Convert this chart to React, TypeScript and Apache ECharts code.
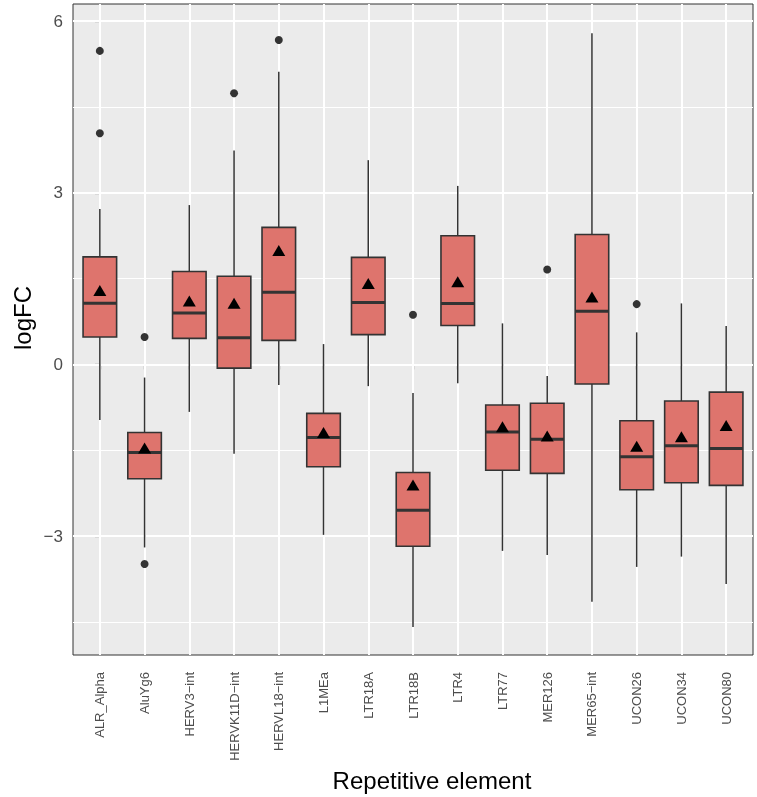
import React, { useEffect, useRef } from "react";
import * as echarts from "echarts";

const categories = [
  "ALR_Alpha", "AluYg6", "HERV3\u2212int", "HERVK11D\u2212int", "HERVL18\u2212int", "L1MEa", "LTR18A",
  "LTR18B", "LTR4", "LTR77", "MER126", "MER65\u2212int", "UCON26", "UCON34", "UCON80",
];
const whiskerLow = [-0.97, -3.2, -0.83, -1.56, -0.36, -2.98, -0.38, -4.59, -0.33, -3.26, -3.33, -4.15, -3.54, -3.36, -3.84];
const q1 = [0.48, -2.0, 0.455, -0.065, 0.42, -1.79, 0.52, -3.18, 0.68, -1.85, -1.905, -0.344, -2.19, -2.07, -2.115];
const median = [1.07, -1.54, 0.9, 0.465, 1.26, -1.28, 1.08, -2.55, 1.066, -1.18, -1.31, 0.927, -1.615, -1.42, -1.47];
const q3 = [1.88, -1.19, 1.625, 1.54, 2.395, -0.857, 1.87, -1.89, 2.25, -0.71, -0.68, 2.27, -0.985, -0.64, -0.484];
const whiskerHigh = [2.715, -0.23, 2.785, 3.74, 5.115, 0.355, 3.57, -0.5, 3.12, 0.717, -0.205, 5.79, 0.56, 1.066, 0.67];
const means = [1.29, -1.46, 1.107, 1.07, 1.99, -1.19, 1.415, -2.11, 1.445, -1.09, -1.25, 1.177, -1.43, -1.266, -1.07];
const outlierCat = [0, 0, 1, 1, 3, 4, 7, 10, 12];
const outlierVal = [5.48, 4.04, 0.48, -3.49, 4.74, 5.67, 0.867, 1.66, 1.054];
const yTicks = [-3, 0, 3, 6];
const yMinorTicks = [-4.5, -1.5, 1.5, 4.5];

export default function App() {
  const ref = useRef<HTMLDivElement>(null);
  useEffect(() => {
    if (!ref.current) return;
    const chart = echarts.init(ref.current, undefined, { renderer: "svg" });
    const catIdx = categories.map((_, i) => i);
    const font = "Liberation Sans, Arial, Helvetica, sans-serif";
    const boxData = categories.map((_, i) => [i, whiskerLow[i], q1[i], median[i], q3[i], whiskerHigh[i]]);
    const markLineData = [
      ...yTicks.map((v) => ({ yAxis: v, lineStyle: { color: "#ffffff", width: 2, type: "solid" } })),
      ...yMinorTicks.map((v) => ({ yAxis: v, lineStyle: { color: "#ffffff", width: 1, type: "solid" } })),
      ...catIdx.map((v) => ({ xAxis: v, lineStyle: { color: "#ffffff", width: 2, type: "solid" } })),
    ];
    chart.setOption({
      animation: false,
      grid: {
        left: 73,
        right: 4,
        top: 4,
        bottom: 142,
        show: true,
        backgroundColor: "#EBEBEB",
        borderColor: "#333333",
        borderWidth: 1,
        z: 0,
      },
      xAxis: {
        type: "value",
        min: -0.6,
        max: 14.6,
        axisLine: { show: false },
        splitLine: { show: false },
        axisTick: { show: true, customValues: catIdx, length: 5, lineStyle: { color: "#333333", width: 1.2 } },
        axisLabel: {
          customValues: catIdx,
          formatter: (v: number) => categories[Math.round(v)] ?? "",
          rotate: 90,
          margin: 17,
          fontSize: 13,
          color: "#4D4D4D",
          fontFamily: font,
          padding: [12, 0, 0, 0],
        },
      },
      yAxis: {
        type: "value",
        min: -5.08,
        max: 6.3,
        axisLine: { show: false },
        splitLine: { show: false },
        axisTick: { show: true, customValues: yTicks, length: 5, lineStyle: { color: "#333333", width: 1.2 } },
        axisLabel: {
          customValues: yTicks,
          formatter: (v: number) => (v < 0 ? "\u2212" + Math.abs(v) : String(v)),
          margin: 10,
          fontSize: 17,
          color: "#4D4D4D",
          fontFamily: font,
        },
      },
      graphic: [
        {
          type: "text",
          x: 432,
          y: 780,
          style: {
            text: "Repetitive element",
            fontSize: 24,
            fontFamily: font,
            fill: "#000000",
            textAlign: "center",
            textVerticalAlign: "middle",
          },
        },
        {
          type: "text",
          x: 22,
          y: 318,
          rotation: Math.PI / 2,
          style: {
            text: "logFC",
            fontSize: 24,
            fontFamily: font,
            fill: "#000000",
            textAlign: "center",
            textVerticalAlign: "middle",
          },
        },
      ],
      series: [
        {
          type: "custom",
          name: "box",
          z: 3,
          data: boxData,
          encode: { x: 0, y: [1, 2, 3, 4, 5] },
          markLine: {
            silent: true,
            symbol: "none",
            z: 1,
            label: { show: false },
            emphasis: { disabled: true },
            data: markLineData,
          },
          renderItem: (params: any, api: any) => {
            const x = api.value(0);
            const pLo = api.coord([x, api.value(1)]);
            const pQ1 = api.coord([x, api.value(2)]);
            const pMed = api.coord([x, api.value(3)]);
            const pQ3 = api.coord([x, api.value(4)]);
            const pHi = api.coord([x, api.value(5)]);
            const halfW = api.size([0.75, 0])[0] / 2;
            const stroke = "#333333";
            return {
              type: "group",
              children: [
                { type: "line", shape: { x1: pHi[0], y1: pHi[1], x2: pQ3[0], y2: pQ3[1] }, style: { stroke, lineWidth: 1.5 } },
                { type: "line", shape: { x1: pQ1[0], y1: pQ1[1], x2: pLo[0], y2: pLo[1] }, style: { stroke, lineWidth: 1.5 } },
                {
                  type: "rect",
                  shape: { x: pQ3[0] - halfW, y: pQ3[1], width: halfW * 2, height: pQ1[1] - pQ3[1] },
                  style: { fill: "#DE746D", stroke, lineWidth: 1.6 },
                },
                { type: "line", shape: { x1: pMed[0] - halfW, y1: pMed[1], x2: pMed[0] + halfW, y2: pMed[1] }, style: { stroke, lineWidth: 3 } },
              ],
            };
          },
        },
        {
          type: "scatter",
          name: "outliers",
          z: 4,
          symbol: "circle",
          symbolSize: 8,
          itemStyle: { color: "#333333", opacity: 1 },
          data: outlierCat.map((c, i) => [c, outlierVal[i]]),
        },
        {
          type: "scatter",
          name: "mean",
          z: 5,
          symbol: "triangle",
          symbolSize: [13, 11],
          itemStyle: { color: "#000000", opacity: 1 },
          data: means.map((m, i) => [i, m]),
        },
      ],
    });
    return () => chart.dispose();
  }, []);
  return <div ref={ref} style={{ position: "fixed", left: 0, top: 0, width: 757, height: 797 }} />;
}
